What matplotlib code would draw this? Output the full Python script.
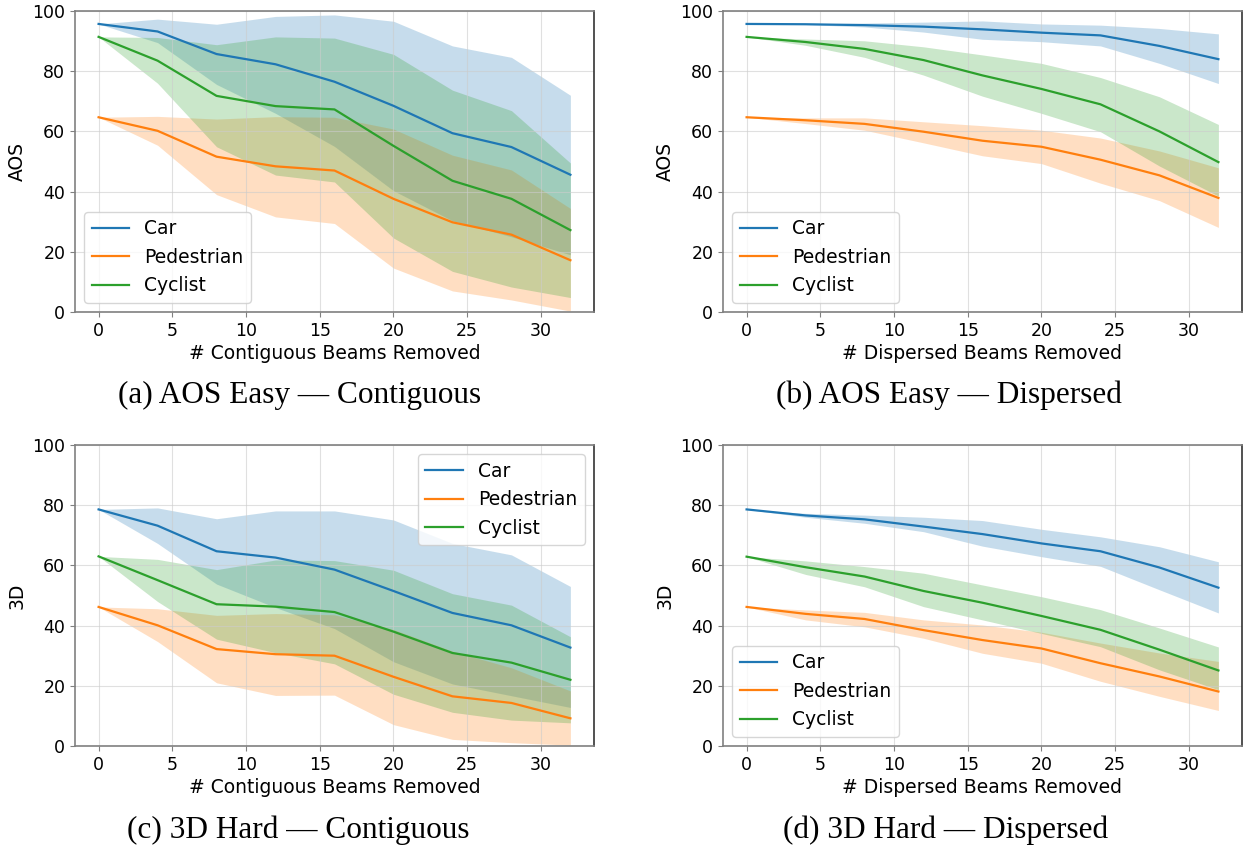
import matplotlib
matplotlib.use("Agg")
import matplotlib.pyplot as plt

x_beams = [0, 4, 8, 12, 16, 20, 24, 28, 32]
classes = ["Car", "Pedestrian", "Cyclist"]
colors = ["#1f77b4", "#ff7f0e", "#2ca02c"]

# (a) AOS Easy - Contiguous
a_car_mean = [95.7, 93.2, 85.7, 82.3, 76.5, 68.5, 59.4, 54.8, 45.6]
a_car_hi = [95.7, 97.3, 95.6, 98.2, 98.7, 96.6, 88.4, 84.6, 72.0]
a_car_lo = [95.7, 89.5, 75.6, 66.0, 55.0, 40.3, 30.3, 25.0, 19.0]
a_ped_mean = [64.7, 60.2, 51.6, 48.4, 47.0, 37.6, 29.8, 25.7, 17.2]
a_ped_hi = [64.7, 65.0, 64.1, 64.9, 64.7, 60.8, 52.1, 47.2, 34.4]
a_ped_lo = [64.7, 55.4, 39.0, 31.6, 29.4, 14.6, 7.0, 4.0, 0.3]
a_cyc_mean = [91.4, 83.5, 71.8, 68.4, 67.3, 55.2, 43.6, 37.6, 27.2]
a_cyc_hi = [91.4, 91.2, 88.8, 91.4, 91.0, 85.6, 73.7, 66.9, 49.5]
a_cyc_lo = [91.4, 76.0, 54.9, 45.5, 43.2, 24.6, 13.5, 8.3, 4.8]

# (b) AOS Easy - Dispersed
b_car_mean = [95.7, 95.6, 95.3, 94.8, 93.9, 92.8, 91.9, 88.4, 84.0]
b_car_hi = [95.7, 95.7, 96.0, 96.3, 96.7, 95.7, 95.3, 94.2, 92.4]
b_car_lo = [95.7, 95.5, 94.7, 93.0, 90.6, 89.8, 88.4, 82.6, 75.9]
b_ped_mean = [64.7, 63.7, 62.5, 59.9, 56.9, 54.9, 50.6, 45.4, 37.9]
b_ped_hi = [64.7, 64.5, 64.5, 63.2, 61.9, 60.4, 57.8, 53.5, 47.9]
b_ped_lo = [64.7, 62.6, 60.4, 56.2, 51.9, 49.3, 42.8, 37.0, 28.1]
b_cyc_mean = [91.4, 89.7, 87.4, 83.7, 78.6, 74.1, 69.0, 60.0, 49.8]
b_cyc_hi = [91.4, 90.7, 90.1, 88.1, 85.4, 82.6, 77.9, 71.5, 62.3]
b_cyc_lo = [91.4, 88.6, 84.6, 78.7, 71.7, 66.0, 59.9, 48.5, 38.5]

# (c) 3D Hard - Contiguous
c_car_mean = [78.6, 73.2, 64.7, 62.6, 58.6, 51.5, 44.2, 40.1, 32.7]
c_car_hi = [78.6, 79.1, 75.5, 78.1, 78.1, 75.1, 67.3, 63.5, 53.0]
c_car_lo = [78.6, 67.3, 53.8, 46.0, 39.0, 28.0, 20.6, 16.7, 12.8]
c_ped_mean = [46.2, 40.1, 32.2, 30.5, 30.0, 23.0, 16.5, 14.3, 9.2]
c_ped_hi = [46.2, 45.6, 43.4, 44.0, 43.6, 38.7, 31.5, 26.0, 18.3]
c_ped_lo = [46.2, 34.7, 21.0, 16.8, 16.9, 7.1, 2.2, 1.1, 0.3]
c_cyc_mean = [63.0, 55.1, 47.1, 46.3, 44.5, 38.0, 30.9, 27.7, 22.0]
c_cyc_hi = [63.0, 62.0, 58.6, 61.8, 61.6, 58.4, 50.6, 46.8, 36.3]
c_cyc_lo = [63.0, 48.0, 35.5, 31.0, 27.3, 17.2, 11.2, 8.6, 7.7]

# (d) 3D Hard - Dispersed
d_car_mean = [78.6, 76.6, 75.3, 72.9, 70.4, 67.3, 64.7, 59.3, 52.6]
d_car_hi = [78.6, 77.3, 76.7, 76.0, 74.9, 72.0, 69.5, 66.2, 61.2]
d_car_lo = [78.6, 76.0, 74.0, 71.2, 66.4, 62.9, 59.7, 51.9, 44.2]
d_ped_mean = [46.2, 43.9, 42.2, 38.5, 35.2, 32.4, 27.5, 23.1, 18.1]
d_ped_hi = [46.2, 45.2, 44.4, 41.9, 40.2, 37.8, 34.2, 30.9, 28.1]
d_ped_lo = [46.2, 41.9, 39.6, 35.8, 30.8, 27.5, 21.5, 16.5, 11.8]
d_cyc_mean = [62.9, 59.4, 56.3, 51.5, 47.6, 43.2, 38.6, 32.0, 25.1]
d_cyc_hi = [62.9, 61.5, 59.6, 57.4, 53.5, 49.6, 45.3, 39.2, 32.9]
d_cyc_lo = [62.9, 57.0, 52.9, 46.3, 41.9, 37.4, 33.0, 25.3, 18.7]

panels = [
    dict(series=[(a_car_mean, a_car_lo, a_car_hi), (a_ped_mean, a_ped_lo, a_ped_hi), (a_cyc_mean, a_cyc_lo, a_cyc_hi)],
         ylabel="AOS", xlabel="# Contiguous Beams Removed", caption="(a) AOS Easy — Contiguous", loc="lower left"),
    dict(series=[(b_car_mean, b_car_lo, b_car_hi), (b_ped_mean, b_ped_lo, b_ped_hi), (b_cyc_mean, b_cyc_lo, b_cyc_hi)],
         ylabel="AOS", xlabel="# Dispersed Beams Removed", caption="(b) AOS Easy — Dispersed", loc="lower left"),
    dict(series=[(c_car_mean, c_car_lo, c_car_hi), (c_ped_mean, c_ped_lo, c_ped_hi), (c_cyc_mean, c_cyc_lo, c_cyc_hi)],
         ylabel="3D", xlabel="# Contiguous Beams Removed", caption="(c) 3D Hard — Contiguous", loc="upper right"),
    dict(series=[(d_car_mean, d_car_lo, d_car_hi), (d_ped_mean, d_ped_lo, d_ped_hi), (d_cyc_mean, d_cyc_lo, d_cyc_hi)],
         ylabel="3D", xlabel="# Dispersed Beams Removed", caption="(d) 3D Hard — Dispersed", loc="lower left"),
]

W, H = 1245, 847
fig = plt.figure(figsize=(W / 100, H / 100), dpi=100)

# axes boxes in pixels: left, top, width, height
boxes = [(75, 11, 519, 301), (723, 11, 519, 301), (75, 445, 519, 301), (723, 445, 519, 301)]
caption_pos = [(300, 395), (949, 395), (298, 830), (946, 830)]

for p, (l, t, w, h), (cx, cy) in zip(panels, boxes, caption_pos):
    ax = fig.add_axes([l / W, 1 - (t + h) / H, w / W, h / H])
    for (mean, lo, hi), name, col in zip(p["series"], classes, colors):
        ax.plot(x_beams, mean, color=col, lw=1.6, label=name)
        ax.fill_between(x_beams, lo, hi, color=col, alpha=0.25, linewidth=0)
    ax.set_ylim(0, 100)
    ax.set_xlim(-1.6, 33.6)
    ax.set_yticks([0, 20, 40, 60, 80, 100])
    ax.set_xticks([0, 5, 10, 15, 20, 25, 30])
    ax.grid(True, color="#cccccc", alpha=0.6, lw=0.8)
    ax.tick_params(labelsize=12.5, color="#808080")
    for s in ["left", "top", "bottom"]:
        ax.spines[s].set_color("#808080")
        ax.spines[s].set_linewidth(1.2)
    ax.spines["right"].set_color("#333333")
    ax.spines["right"].set_linewidth(1.2)
    ax.set_ylabel(p["ylabel"], fontsize=13.5)
    ax.set_xlabel(p["xlabel"], fontsize=13.5, labelpad=3)
    ax.legend(loc=p["loc"], fontsize=13.5, framealpha=0.8)
    fig.text(cx / W, 1 - cy / H, p["caption"], ha="center", va="center",
             fontsize=22.5, family="Liberation Serif")

fig.savefig("out.png", dpi=100)
